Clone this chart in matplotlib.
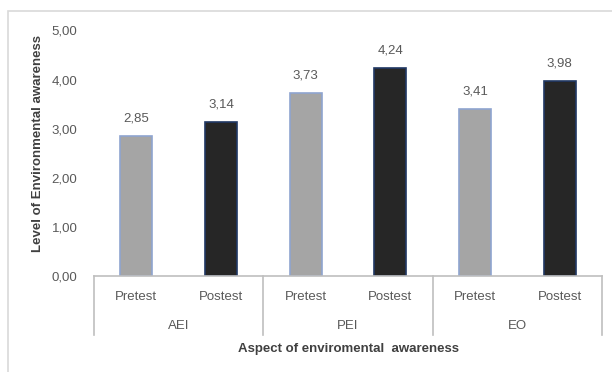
import matplotlib
matplotlib.use('Agg')
import matplotlib.pyplot as plt
import matplotlib.transforms as mtransforms
from matplotlib.patches import Rectangle

groups = ['AEI', 'PEI', 'EO']
tests = ['Pretest', 'Postest']
pretest = [2.85, 3.73, 3.41]
postest = [3.14, 4.24, 3.98]
yticks = [0, 1, 2, 3, 4, 5]

plt.rcParams['font.family'] = ['Liberation Sans', 'DejaVu Sans']

fig = plt.figure(figsize=(6.12, 3.72), dpi=100)
# outer chart frame
fig.patches.append(Rectangle((7.5/612, -0.1), 1.0, 1 - 11/372 + 0.1, transform=fig.transFigure,
                             fill=False, edgecolor='#D9D9D9', lw=1.2))
H = 245.6
ax = fig.add_axes([94/612, 1 - 276/372, 508/612, H/372])

vals = []
cols = []
edges = []
labels = []
for p, q in zip(pretest, postest):
    vals += [p, q]
    cols += ['#A5A5A5', '#262626']
    edges += ['#8FA4D0', '#203864']
    labels += tests
x = list(range(len(vals)))

ax.bar(x, vals, width=0.38, color=cols, edgecolor=edges, linewidth=1.2)
for xi, v in zip(x, vals):
    ax.annotate(('%.2f' % v).replace('.', ','), (xi, v), xytext=(0, 8),
                textcoords='offset points', ha='center', va='bottom',
                fontsize=9.5, color='#595959')

ax.set_xlim(-0.5, len(vals) - 0.5)
ax.set_ylim(0, 5)
ax.set_yticks(yticks)
ax.set_yticklabels([('%.2f' % t).replace('.', ',') for t in yticks])
ax.set_xticks(x)
ax.set_xticklabels(labels)
ax.tick_params(axis='both', length=0, labelsize=9.5, labelcolor='#595959')
ax.tick_params(axis='x', pad=11)
ax.tick_params(axis='y', pad=12)
for s in ['top', 'right', 'left']:
    ax.spines[s].set_visible(False)
ax.spines['bottom'].set_color('#BFBFBF')
ax.spines['bottom'].set_linewidth(1.2)

trans = mtransforms.blended_transform_factory(ax.transData, ax.transAxes)
for i in range(len(groups) + 1):
    xs = 2 * i - 0.5
    ax.plot([xs, xs], [0, -59/H], transform=trans, color='#BFBFBF',
            lw=1.2, clip_on=False)
for i, g in enumerate(groups):
    ax.text(2 * i + 0.5, -50/H, g, transform=trans, ha='center', va='center',
            fontsize=9.5, color='#595959')

ax.set_xlabel('Aspect of enviromental  awareness', fontsize=9.5,
              fontweight='bold', color='#404040')
ax.xaxis.label.set_va('center')
ax.xaxis.set_label_coords(0.5, -73/H)
ax.set_ylabel('Level of Environmental awareness', fontsize=9.5,
              fontweight='bold', color='#404040')
ax.yaxis.label.set_va('center')
ax.yaxis.set_label_coords(-56/508, (276 - 143)/H)

plt.savefig('out.png', dpi=100)
